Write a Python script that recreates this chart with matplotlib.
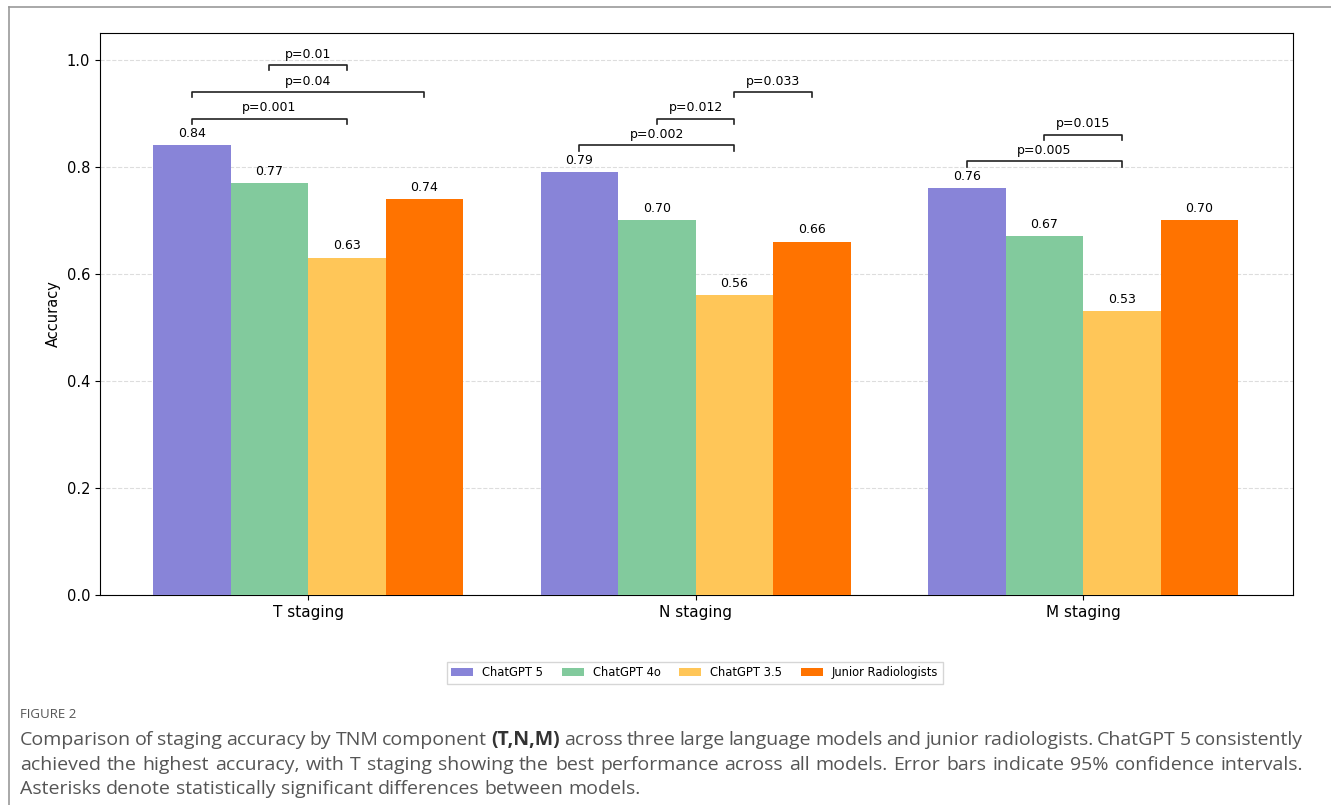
import numpy as np
import matplotlib
matplotlib.use("Agg")
import matplotlib.pyplot as plt
from matplotlib.lines import Line2D
from matplotlib import font_manager

# data
stages = ["T staging", "N staging", "M staging"]
models = ["ChatGPT 5", "ChatGPT 4o", "ChatGPT 3.5", "Junior Radiologists"]
colors = ["#8884d8", "#82ca9d", "#ffc658", "#ff7300"]
acc_gpt5 = [0.84, 0.79, 0.76]
acc_gpt4o = [0.77, 0.70, 0.67]
acc_gpt35 = [0.63, 0.56, 0.53]
acc_junior = [0.74, 0.66, 0.70]

# significance brackets: (group, bar_a, bar_b, label)
brackets_T = [(0, 0, 2, "p=0.001"), (0, 0, 3, "p=0.04"), (0, 1, 2, "p=0.01")]
brackets_N = [(1, 0, 2, "p=0.002"), (1, 1, 2, "p=0.012"), (1, 2, 3, "p=0.033")]
brackets_M = [(2, 0, 2, "p=0.005"), (2, 1, 2, "p=0.015")]

caption_title = "FIGURE 2"
# each line: list of (text, bold?) pieces, and whether it is justified
caption_lines = [
    ([("Comparison of staging accuracy by TNM component", False), ("(T,N,M)", True),
      ("across three large language models and junior radiologists. ChatGPT 5 consistently", False)], True),
    ([("achieved the highest accuracy, with T staging showing the best performance across all models. "
       "Error bars indicate 95% confidence intervals.", False)], True),
    ([("Asterisks denote statistically significant differences between models.", False)], False),
]

all_acc = [acc_gpt5, acc_gpt4o, acc_gpt35, acc_junior]

fig = plt.figure(figsize=(13.31, 8.05), dpi=100)
ax = fig.add_axes([0.0751, 0.2609, 0.8964, 0.6981])

x = np.arange(len(stages))
width = 0.2
offsets = [-0.3, -0.1, 0.1, 0.3]

for vals, name, c, off in zip(all_acc, models, colors, offsets):
    bars = ax.bar(x + off, vals, width, color=c, label=name, zorder=3)
    for b, v in zip(bars, vals):
        ax.text(b.get_x() + b.get_width() / 2, v + 0.01, f"{v:.2f}",
                ha="center", va="bottom", fontsize=9)

# brackets with p-values, stacked from the tallest bar of each group
for blist in (brackets_T, brackets_N, brackets_M):
    grp = blist[0][0]
    base = max(acc[grp] for acc in all_acc) + 0.05
    for i, (g, a, b, lab) in enumerate(blist):
        y = base + 0.05 * i
        x1 = g + offsets[a]
        x2 = g + offsets[b]
        ax.plot([x1, x1, x2, x2], [y - 0.01, y, y, y - 0.01], color="#222222", lw=1.2, zorder=4)
        ax.text((x1 + x2) / 2, y + 0.008, lab, ha="center", va="bottom", fontsize=9)

ax.set_xlim(-0.537, 2.542)
ax.set_ylim(0, 1.05)
ax.set_xticks(x)
ax.set_xticklabels(stages, fontsize=11)
ax.set_yticks([0.0, 0.2, 0.4, 0.6, 0.8, 1.0])
ax.tick_params(axis="y", labelsize=10.5)
ax.set_ylabel("Accuracy", fontsize=10.5)
ax.yaxis.grid(True, linestyle="--", color="#dddddd", lw=0.8, zorder=0)
ax.set_axisbelow(True)

fig.legend(loc="center", bbox_to_anchor=(0.522, 0.164), ncol=4, fontsize=8.3,
           frameon=True, edgecolor="#cccccc", fancybox=False,
           handlelength=1.9, columnspacing=1.6)

# page frame lines
fig.add_artist(Line2D([9 / 1331, 1.0], [1 - 7 / 805, 1 - 7 / 805], color="#999999", lw=1.2))
fig.add_artist(Line2D([9 / 1331, 9 / 1331], [0.0, 1 - 7 / 805], color="#999999", lw=1.2))

# caption font: a narrow face if there is one
installed = {f.name for f in font_manager.fontManager.ttflist}
if "Liberation Sans Narrow" in installed:
    cap_font, cap_size = "Liberation Sans Narrow", 14.5
else:
    cap_font, cap_size = "Open Sans", 14
cap_color = "#555555"

fig.text(20 / 1331, 1 - 714 / 805, caption_title, fontsize=9.5, color="#555555",
         family=cap_font, va="center")

renderer = fig.canvas.get_renderer()
W = fig.bbox.width
left_px, right_px = 20, 1303
line_y = [740, 765, 789]

space = fig.text(0, 0, "a a", fontsize=cap_size, family=cap_font)
aa = fig.text(0, 0, "aa", fontsize=cap_size, family=cap_font)
sp = space.get_window_extent(renderer).width - aa.get_window_extent(renderer).width
space.remove()
aa.remove()

for (pieces, justify), ypx in zip(caption_lines, line_y):
    yf = 1 - ypx / 805
    words = []
    for txt, bold in pieces:
        for w in txt.split():
            words.append((w, bold))
    texts = []
    for w, bold in words:
        t = fig.text(0, yf, w, fontsize=cap_size, family=cap_font, va="center",
                     weight="bold" if bold else "normal",
                     color="#333333" if bold else cap_color)
        texts.append(t)
    widths = [t.get_window_extent(renderer).width for t in texts]
    if justify and len(words) > 1:
        gap = (right_px - left_px - sum(widths)) / (len(words) - 1)
    else:
        gap = sp
    xp = left_px
    for t, w in zip(texts, widths):
        t.set_x(xp / W)
        xp += w + gap

fig.savefig("out.png", dpi=100)
